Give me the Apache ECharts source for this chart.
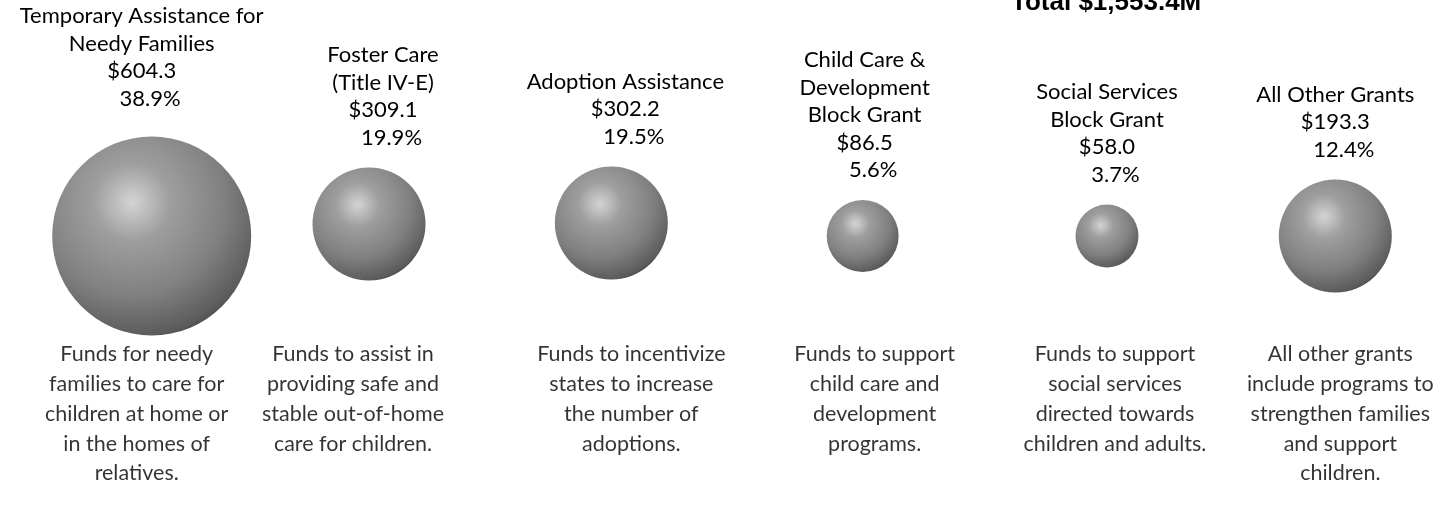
<!DOCTYPE html>
<html>
<head>
<meta charset="utf-8">
<script src="https://cdn.jsdelivr.net/npm/echarts@6/dist/echarts.min.js"></script>
<style>
  html, body { margin: 0; padding: 0; background: #fff; }
  #chart { width: 1449px; height: 518px; }
</style>
</head>
<body>
<div id="chart"></div>
<script>
const programs = [
  "Temporary Assistance for\nNeedy Families",
  "Foster Care\n(Title IV-E)",
  "Adoption Assistance",
  "Child Care &\nDevelopment\nBlock Grant",
  "Social Services\nBlock Grant",
  "All Other Grants"
];
const amounts = [604.3, 309.1, 302.2, 86.5, 58.0, 193.3];
const shares = [38.9, 19.9, 19.5, 5.6, 3.7, 12.4];
const descriptions = [
  "Funds for needy\nfamilies to care for\nchildren at home or\nin the homes of\nrelatives.",
  "Funds to assist in\nproviding safe and\nstable out-of-home\ncare for children.",
  "Funds to incentivize\nstates to increase\nthe number of\nadoptions.",
  "Funds to support\nchild care and\ndevelopment\nprograms.",
  "Funds to support\nsocial services\ndirected towards\nchildren and adults.",
  "All other grants\ninclude programs to\nstrengthen families\nand support\nchildren."
];
const total = 1553.4;

// drawn bubble sizes and hand nudges (px), as in the original artwork
const bubbleDiameter = [199, 113, 113, 72, 63, 113];
const bubbleShiftX = [7, -15, -12, 0, 5, -6];
const bubbleLift = [0, 12, 13, 0, 0, 0];
const labelShiftX = [-10, 14, 14, 2, 0, 0];
const labelGap = [24, 16, 16, 16, 16, 16];
const descShiftX = [-8, -31, 8, 12, 13, -1];

const chart = echarts.init(document.getElementById("chart"));

const sphere = {
  type: "radial",
  x: 0.4,
  y: 0.33,
  r: 0.78,
  colorStops: [
    { offset: 0, color: "#d4d4d4" },
    { offset: 0.25, color: "#9e9e9e" },
    { offset: 0.6, color: "#808080" },
    { offset: 0.86, color: "#5c5c5c" },
    { offset: 1, color: "#2a2a2a" }
  ]
};

const font = "Lato, 'Liberation Sans', sans-serif";

const option = {
  animation: false,
  title: {
    text: "Total $" + total.toLocaleString("en-US", { minimumFractionDigits: 1 }) + "M",
    left: 1006,
    top: -15,
    textStyle: { fontFamily: "'Liberation Sans', Arial, sans-serif", fontWeight: "bold", fontSize: 26, color: "#000" }
  },
  grid: { left: 37, right: 0, top: 236, height: 103 },
  xAxis: { type: "value", min: -0.45, max: 5.45, show: false },
  yAxis: { type: "value", min: 0, max: 1, show: false },
  series: [
    {
      name: "Amount",
      type: "scatter",
      data: amounts.map((v, i) => ({
        value: [i, 1, v],
        symbolSize: bubbleDiameter[i],
        symbolOffset: [bubbleShiftX[i], -bubbleLift[i]],
        label: { offset: [labelShiftX[i], 0], distance: labelGap[i] }
      })),
      itemStyle: { color: sphere, opacity: 1 },
      label: {
        show: true,
        position: "top",
        fontFamily: font,
        fontSize: 22,
        lineHeight: 27.5,
        color: "#000",
        align: "center",
        formatter: (p) => {
          const i = p.dataIndex;
          return programs[i] + "\n$" + amounts[i].toFixed(1) + "\n   " + shares[i].toFixed(1) + "%";
        }
      },
      emphasis: { disabled: true }
    },
    {
      name: "Description",
      type: "scatter",
      data: descriptions.map((d, i) => ({
        value: [i, 0],
        label: { offset: [descShiftX[i], 0] }
      })),
      symbolSize: 1,
      itemStyle: { color: "rgba(0,0,0,0)" },
      label: {
        show: true,
        position: "bottom",
        distance: 0,
        fontFamily: font,
        fontSize: 21.5,
        lineHeight: 29.75,
        color: "#000",
        align: "center",
        formatter: (p) => descriptions[p.dataIndex]
      },
      emphasis: { disabled: true }
    }
  ]
};

chart.setOption(option);
</script>
</body>
</html>
